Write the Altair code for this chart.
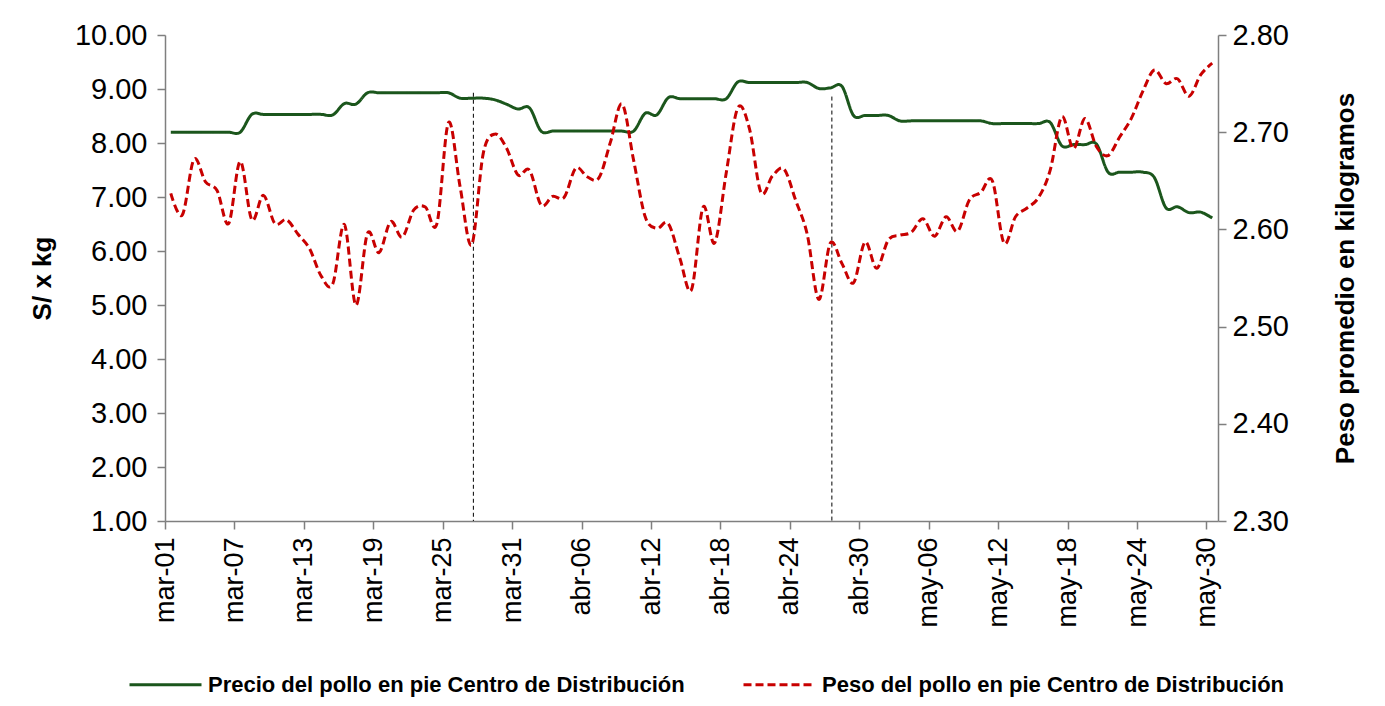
import altair as alt
import pandas as pd

# ---------------- data ----------------
dates = pd.date_range("2023-03-01 12:00", periods=91, freq="D").strftime("%Y-%m-%dT%H:%M:%S").tolist()

price = [
    8.20, 8.20, 8.20, 8.20, 8.20, 8.20, 8.20,
    8.53, 8.53, 8.53, 8.53, 8.53, 8.53, 8.53, 8.52,
    8.73, 8.72,
    8.93, 8.93, 8.93, 8.93, 8.93, 8.93, 8.93, 8.93,
    8.83, 8.83, 8.83,
    8.80, 8.72, 8.63, 8.65,
    8.22, 8.22, 8.22, 8.22, 8.22, 8.22, 8.22, 8.22, 8.22,
    8.55, 8.52,
    8.84, 8.82, 8.82, 8.82, 8.82, 8.82,
    9.13, 9.12, 9.12, 9.12, 9.12, 9.12, 9.12,
    9.01, 9.02, 9.05,
    8.51, 8.51, 8.51, 8.51,
    8.41, 8.41, 8.41, 8.41, 8.41, 8.41, 8.41, 8.41,
    8.36, 8.36, 8.36, 8.36, 8.36, 8.38,
    7.95, 7.97, 7.97, 7.98,
    7.46, 7.46, 7.46, 7.46, 7.36,
    6.80, 6.82, 6.71, 6.72, 6.61,
]

weight = [
    2.637, 2.615, 2.672, 2.649, 2.640, 2.606, 2.670, 2.610, 2.635, 2.606,
    2.610, 2.595, 2.580, 2.552, 2.544, 2.605, 2.522, 2.596, 2.576, 2.608,
    2.592, 2.620, 2.623, 2.606, 2.710, 2.644, 2.584, 2.678, 2.698, 2.684,
    2.656, 2.661, 2.625, 2.634, 2.633, 2.663, 2.654, 2.653, 2.690, 2.729,
    2.671, 2.613, 2.601, 2.606, 2.570, 2.538, 2.623, 2.586, 2.658, 2.725,
    2.704, 2.638, 2.655, 2.662, 2.630, 2.595, 2.528, 2.586, 2.565, 2.545,
    2.587, 2.560, 2.589, 2.594, 2.597, 2.611, 2.593, 2.613, 2.598, 2.630,
    2.638, 2.650, 2.586, 2.613, 2.622, 2.633, 2.661, 2.716, 2.683, 2.714,
    2.685, 2.676, 2.695, 2.714, 2.742, 2.764, 2.750, 2.755, 2.737, 2.759,
    2.771,
]

series_names = [
    "Precio del pollo en pie Centro de Distribución",
    "Peso del pollo en pie Centro de Distribución",
]

marker_dates = ["2023-03-27T15:36:00", "2023-04-27T15:08:00"]
marker_top = [8.93, 8.86]
marker_bottom = [1.0, 1.0]

tick_dates = pd.date_range("2023-03-01", periods=16, freq="6D")
month_abbr = ["ene", "feb", "mar", "abr", "may", "jun", "jul", "ago", "sep", "oct", "nov", "dic"]

left_ticks = [1, 2, 3, 4, 5, 6, 7, 8, 9, 10]
right_ticks = [2.3, 2.4, 2.5, 2.6, 2.7, 2.8]

GREEN = "#1B561C"
RED = "#C80000"
FONT = "Liberation Sans"

# ---------------- tables ----------------
df_price = pd.DataFrame({"fecha": dates, "valor": price, "serie": series_names[0]})
df_weight = pd.DataFrame({"fecha": dates, "valor": weight, "serie": series_names[1]})
df_marks = pd.DataFrame({"fecha": marker_dates, "valor": marker_top, "valor_fin": marker_bottom})

month_js = "[" + ",".join("'" + m + "'" for m in month_abbr) + "]"
label_expr = month_js + "[month(datum.value)] + '-' + timeFormat(datum.value, '%d')"

x_enc = alt.X(
    "fecha:T",
    scale=alt.Scale(domain=[alt.DateTime(year=2023, month=3, date=1),
                            alt.DateTime(year=2023, month=5, date=31)]),
    axis=alt.Axis(
        values=[alt.DateTime(year=int(d.year), month=int(d.month), date=int(d.day)) for d in tick_dates],
        labelExpr=label_expr,
        labelAngle=270,
        labelAlign="right",
        labelBaseline="middle",
        labelPadding=8,
        labelFontSize=27,
        title=None,
        grid=False,
    ),
)

y_left = alt.Y(
    "valor:Q",
    scale=alt.Scale(domain=[1, 10]),
    axis=alt.Axis(
        orient="left",
        values=left_ticks,
        format=".2f",
        title="S/ x kg",
        titleAngle=270,
        titleX=-123,
        titleY=243,
        titleAlign="center",
        titleBaseline="middle",
        labelPadding=10,
        labelFontSize=29,
        grid=False,
    ),
)

y_right = alt.Y(
    "valor:Q",
    scale=alt.Scale(domain=[2.3, 2.8]),
    axis=alt.Axis(
        orient="right",
        values=right_ticks,
        format=".2f",
        title="Peso promedio en kilogramos",
        titleAngle=270,
        titleX=127,
        titleY=243,
        titleAlign="center",
        titleBaseline="middle",
        labelPadding=6,
        labelFontSize=29,
        grid=False,
    ),
)

color_enc = alt.Color("serie:N", scale=alt.Scale(domain=series_names, range=[GREEN, RED]), legend=alt.Legend(title=None))
dash_enc = alt.StrokeDash("serie:N", scale=alt.Scale(domain=series_names, range=[[1, 0], [8, 4]]), legend=alt.Legend(title=None))

price_line = alt.Chart(df_price).mark_line(strokeWidth=3, interpolate="cardinal").encode(
    x=x_enc, y=y_left, color=color_enc, strokeDash=dash_enc
)

marks = alt.Chart(df_marks).mark_rule(color="black", strokeWidth=1, strokeDash=[4, 3]).encode(
    x=x_enc, y=y_left, y2="valor_fin:Q"
)

weight_line = alt.Chart(df_weight).mark_line(strokeWidth=3, interpolate="cardinal").encode(
    x=x_enc, y=y_right, color=color_enc, strokeDash=dash_enc
)

left_layer = alt.layer(price_line, marks)

chart = (
    alt.layer(left_layer, weight_line)
    .resolve_scale(y="independent")
    .properties(
        width=1053,
        height=486,
        autosize=alt.AutoSizeParams(type="none"),
        padding={"left": 157, "top": 27, "right": 150, "bottom": 177},
    )
    .configure_view(strokeWidth=0)
    .configure_axis(
        domainColor="#7f7f7f",
        domainWidth=1.5,
        tickColor="#7f7f7f",
        tickWidth=1.5,
        tickSize=8,
        labelColor="black",
        labelFont=FONT,
        titleFont=FONT,
        titleFontSize=26,
        titleFontWeight="bold",
        titleColor="black",
    )
    .configure_legend(
        orient="none",
        legendX=-37,
        legendY=612,
        direction="horizontal",
        columns=2,
        symbolType="stroke",
        symbolSize=5184,
        symbolStrokeWidth=3,
        labelFont=FONT,
        labelFontSize=22,
        labelFontWeight="bold",
        labelColor="black",
        labelLimit=0,
        labelOffset=5,
        columnPadding=52,
        padding=0,
    )
)

chart.save("out.html", embed_options={"renderer": "svg", "actions": False})
